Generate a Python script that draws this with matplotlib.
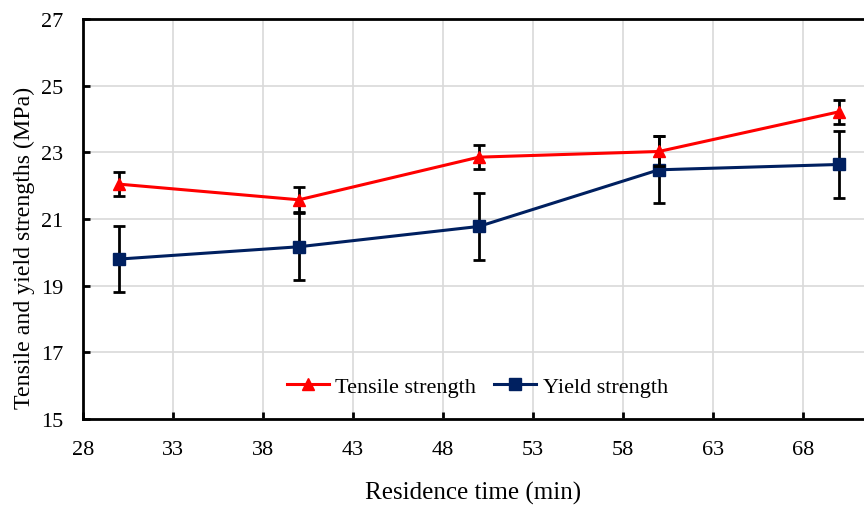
import matplotlib.pyplot as plt
import numpy as np

# residence time (min) and measured strengths (MPa)
time_min = [30, 40, 50, 60, 70]
tensile = [22.05, 21.58, 22.86, 23.03, 24.22]
tensile_err = [0.35, 0.38, 0.36, 0.45, 0.35]
yield_str = [19.80, 20.17, 20.78, 22.48, 22.64]
yield_err = [1.0, 1.0, 1.0, 1.0, 1.0]

x_ticks = [28, 33, 38, 43, 48, 53, 58, 63, 68]
y_ticks = [15, 17, 19, 21, 23, 25, 27]

plt.rcParams['font.family'] = ['Liberation Serif', 'DejaVu Serif']

fig = plt.figure(figsize=(8.64, 5.06), dpi=100)
ax = fig.add_axes([0.096, 0.17, 0.904, 0.79])

ten = ax.errorbar(time_min, tensile, yerr=tensile_err, color='#ff0000', lw=2.2,
                  marker='^', markersize=9, ecolor='black', elinewidth=2,
                  capsize=4, capthick=2, label='Tensile strength', zorder=4)
yld = ax.errorbar(time_min, yield_str, yerr=yield_err, color='#002060', lw=2.2,
                  marker='s', markersize=8, ecolor='black', elinewidth=2,
                  capsize=4, capthick=2, label='Yield strength', zorder=3)

ax.set_xlim(28, 71.4)
ax.set_ylim(15, 27)
ax.set_xticks(x_ticks)
ax.set_yticks(y_ticks)
ax.grid(True, color='#d9d9d9', lw=1.2)
ax.set_axisbelow(True)

for side in ['left', 'bottom', 'top']:
    ax.spines[side].set_linewidth(2)
    ax.spines[side].set_color('black')
ax.spines['right'].set_visible(False)
ax.tick_params(direction='in', length=5, width=2, labelsize=16)
ax.tick_params(axis='x', pad=15)
ax.tick_params(axis='y', pad=14)

ax.set_xlabel('Residence time (min)', fontsize=18, labelpad=16)
ax.set_ylabel('Tensile and yield strengths (MPa)', fontsize=17.2)
ax.yaxis.set_label_coords(-0.062, 0.43)

# legend shows only the lines with markers, not the error bars
ax.legend(handles=[ten.lines[0], yld.lines[0]],
          labels=['Tensile strength', 'Yield strength'],
          loc='lower center', bbox_to_anchor=(0.505, 0.005), ncol=2,
          frameon=False, fontsize=16, handlelength=1.9, columnspacing=0.8,
          handletextpad=0.3)

fig.savefig('out.png', dpi=100)
